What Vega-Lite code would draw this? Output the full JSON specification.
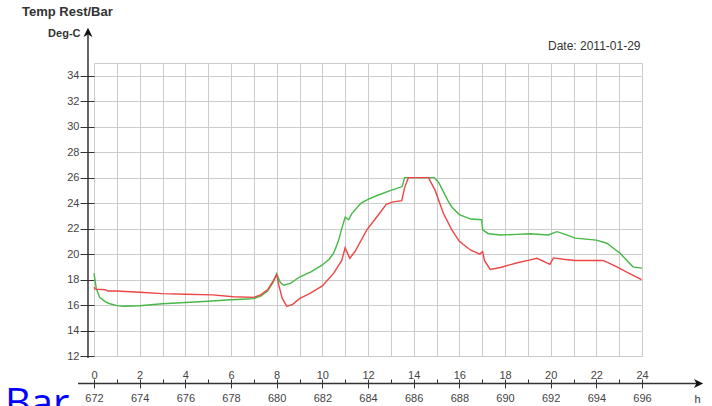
{
  "$schema": "https://vega.github.io/schema/vega-lite/v6.json",
  "width": 548,
  "height": 293,
  "autosize": {"type": "none"},
  "padding": {"left": 94, "top": 63, "right": 70, "bottom": 50},
  "background": "white",
  "title": {"text": "Temp Rest/Bar", "anchor": "start", "frame": "group", "dx": -72, "offset": 8, "font": "Liberation Sans", "fontSize": 13, "fontWeight": "bold", "color": "#333333"},
  "config": {
    "view": {"stroke": "#cccccc"},
    "axis": {"labelFont": "Liberation Sans", "titleFont": "Liberation Sans", "labelColor": "#444444", "titleColor": "#333333"}
  },
  "datasets": {
    "temps": [
      {"hour": 0.0, "temp": 18.5, "series": "Rest"},
      {"hour": 0.1, "temp": 17.3, "series": "Rest"},
      {"hour": 0.25, "temp": 16.6, "series": "Rest"},
      {"hour": 0.5, "temp": 16.25, "series": "Rest"},
      {"hour": 0.7, "temp": 16.1, "series": "Rest"},
      {"hour": 1.0, "temp": 15.95, "series": "Rest"},
      {"hour": 1.3, "temp": 15.9, "series": "Rest"},
      {"hour": 2.0, "temp": 15.95, "series": "Rest"},
      {"hour": 3.0, "temp": 16.1, "series": "Rest"},
      {"hour": 4.0, "temp": 16.2, "series": "Rest"},
      {"hour": 5.0, "temp": 16.3, "series": "Rest"},
      {"hour": 5.8, "temp": 16.4, "series": "Rest"},
      {"hour": 6.5, "temp": 16.45, "series": "Rest"},
      {"hour": 7.0, "temp": 16.5, "series": "Rest"},
      {"hour": 7.3, "temp": 16.7, "series": "Rest"},
      {"hour": 7.6, "temp": 17.1, "series": "Rest"},
      {"hour": 7.85, "temp": 17.8, "series": "Rest"},
      {"hour": 8.0, "temp": 18.45, "series": "Rest"},
      {"hour": 8.15, "temp": 17.8, "series": "Rest"},
      {"hour": 8.3, "temp": 17.55, "series": "Rest"},
      {"hour": 8.6, "temp": 17.7, "series": "Rest"},
      {"hour": 9.0, "temp": 18.2, "series": "Rest"},
      {"hour": 9.5, "temp": 18.6, "series": "Rest"},
      {"hour": 10.0, "temp": 19.15, "series": "Rest"},
      {"hour": 10.3, "temp": 19.6, "series": "Rest"},
      {"hour": 10.5, "temp": 20.1, "series": "Rest"},
      {"hour": 10.7, "temp": 21.0, "series": "Rest"},
      {"hour": 10.85, "temp": 22.0, "series": "Rest"},
      {"hour": 11.0, "temp": 22.9, "series": "Rest"},
      {"hour": 11.15, "temp": 22.7, "series": "Rest"},
      {"hour": 11.3, "temp": 23.2, "series": "Rest"},
      {"hour": 11.7, "temp": 24.0, "series": "Rest"},
      {"hour": 12.0, "temp": 24.3, "series": "Rest"},
      {"hour": 12.4, "temp": 24.6, "series": "Rest"},
      {"hour": 13.0, "temp": 25.0, "series": "Rest"},
      {"hour": 13.5, "temp": 25.3, "series": "Rest"},
      {"hour": 13.6, "temp": 26.0, "series": "Rest"},
      {"hour": 14.9, "temp": 26.0, "series": "Rest"},
      {"hour": 15.1, "temp": 25.6, "series": "Rest"},
      {"hour": 15.3, "temp": 24.9, "series": "Rest"},
      {"hour": 15.5, "temp": 24.2, "series": "Rest"},
      {"hour": 15.67, "temp": 23.7, "series": "Rest"},
      {"hour": 16.0, "temp": 23.1, "series": "Rest"},
      {"hour": 16.5, "temp": 22.75, "series": "Rest"},
      {"hour": 16.98, "temp": 22.7, "series": "Rest"},
      {"hour": 17.02, "temp": 21.9, "series": "Rest"},
      {"hour": 17.27, "temp": 21.6, "series": "Rest"},
      {"hour": 17.8, "temp": 21.5, "series": "Rest"},
      {"hour": 18.5, "temp": 21.55, "series": "Rest"},
      {"hour": 19.1, "temp": 21.6, "series": "Rest"},
      {"hour": 19.9, "temp": 21.5, "series": "Rest"},
      {"hour": 20.27, "temp": 21.76, "series": "Rest"},
      {"hour": 20.55, "temp": 21.6, "series": "Rest"},
      {"hour": 21.07, "temp": 21.25, "series": "Rest"},
      {"hour": 22.0, "temp": 21.1, "series": "Rest"},
      {"hour": 22.46, "temp": 20.85, "series": "Rest"},
      {"hour": 23.04, "temp": 20.07, "series": "Rest"},
      {"hour": 23.6, "temp": 19.0, "series": "Rest"},
      {"hour": 24.0, "temp": 18.9, "series": "Rest"},
      {"hour": 0.0, "temp": 17.4, "series": "Bar"},
      {"hour": 0.05, "temp": 17.25, "series": "Bar"},
      {"hour": 0.5, "temp": 17.2, "series": "Bar"},
      {"hour": 0.6, "temp": 17.1, "series": "Bar"},
      {"hour": 1.0, "temp": 17.1, "series": "Bar"},
      {"hour": 2.0, "temp": 17.0, "series": "Bar"},
      {"hour": 3.0, "temp": 16.9, "series": "Bar"},
      {"hour": 4.0, "temp": 16.85, "series": "Bar"},
      {"hour": 5.2, "temp": 16.8, "series": "Bar"},
      {"hour": 6.1, "temp": 16.65, "series": "Bar"},
      {"hour": 7.0, "temp": 16.6, "series": "Bar"},
      {"hour": 7.3, "temp": 16.8, "series": "Bar"},
      {"hour": 7.6, "temp": 17.2, "series": "Bar"},
      {"hour": 7.85, "temp": 17.9, "series": "Bar"},
      {"hour": 8.0, "temp": 18.4, "series": "Bar"},
      {"hour": 8.1, "temp": 17.5, "series": "Bar"},
      {"hour": 8.25, "temp": 16.5, "series": "Bar"},
      {"hour": 8.45, "temp": 15.9, "series": "Bar"},
      {"hour": 8.7, "temp": 16.05, "series": "Bar"},
      {"hour": 9.0, "temp": 16.5, "series": "Bar"},
      {"hour": 9.5, "temp": 16.95, "series": "Bar"},
      {"hour": 10.0, "temp": 17.5, "series": "Bar"},
      {"hour": 10.5, "temp": 18.5, "series": "Bar"},
      {"hour": 10.85, "temp": 19.5, "series": "Bar"},
      {"hour": 11.0, "temp": 20.5, "series": "Bar"},
      {"hour": 11.2, "temp": 19.67, "series": "Bar"},
      {"hour": 11.43, "temp": 20.2, "series": "Bar"},
      {"hour": 11.95, "temp": 21.9, "series": "Bar"},
      {"hour": 12.4, "temp": 22.95, "series": "Bar"},
      {"hour": 12.8, "temp": 23.9, "series": "Bar"},
      {"hour": 13.1, "temp": 24.1, "series": "Bar"},
      {"hour": 13.48, "temp": 24.2, "series": "Bar"},
      {"hour": 13.6, "temp": 25.2, "series": "Bar"},
      {"hour": 13.77, "temp": 26.0, "series": "Bar"},
      {"hour": 14.65, "temp": 26.0, "series": "Bar"},
      {"hour": 14.94, "temp": 25.0, "series": "Bar"},
      {"hour": 15.3, "temp": 23.2, "series": "Bar"},
      {"hour": 15.67, "temp": 21.9, "series": "Bar"},
      {"hour": 16.0, "temp": 21.0, "series": "Bar"},
      {"hour": 16.5, "temp": 20.3, "series": "Bar"},
      {"hour": 16.9, "temp": 20.0, "series": "Bar"},
      {"hour": 17.02, "temp": 20.2, "series": "Bar"},
      {"hour": 17.1, "temp": 19.5, "series": "Bar"},
      {"hour": 17.35, "temp": 18.8, "series": "Bar"},
      {"hour": 17.8, "temp": 18.95, "series": "Bar"},
      {"hour": 18.5, "temp": 19.3, "series": "Bar"},
      {"hour": 19.1, "temp": 19.55, "series": "Bar"},
      {"hour": 19.4, "temp": 19.67, "series": "Bar"},
      {"hour": 19.97, "temp": 19.2, "series": "Bar"},
      {"hour": 20.12, "temp": 19.7, "series": "Bar"},
      {"hour": 20.55, "temp": 19.6, "series": "Bar"},
      {"hour": 21.07, "temp": 19.5, "series": "Bar"},
      {"hour": 22.3, "temp": 19.5, "series": "Bar"},
      {"hour": 22.9, "temp": 19.0, "series": "Bar"},
      {"hour": 23.48, "temp": 18.45, "series": "Bar"},
      {"hour": 23.98, "temp": 18.0, "series": "Bar"}
    ]
  },
  "layer": [
    {
      "data": {"name": "temps"},
      "mark": {"type": "line", "strokeWidth": 1.4, "clip": false},
      "encoding": {
        "x": {
          "field": "hour", "type": "quantitative",
          "scale": {"domain": [0, 24], "nice": false, "zero": false},
          "axis": {
            "orient": "bottom", "offset": 26,
            "values": [0, 2, 4, 6, 8, 10, 12, 14, 16, 18, 20, 22, 24],
            "labelExpr": "datum.value + 672",
            "tickSize": 6, "tickColor": "#333333", "tickWidth": 1,
            "domain": false, "grid": false,
            "labelPadding": 4, "labelFontSize": 11, "labelFlush": false, "labelOverlap": false,
            "title": "h", "titleX": 603, "titleY": 20, "titleAlign": "center", "titleBaseline": "alphabetic",
            "titleFontWeight": "normal", "titleFontSize": 11
          }
        },
        "y": {
          "field": "temp", "type": "quantitative",
          "scale": {"domain": [12, 35], "nice": false, "zero": false},
          "axis": {
            "orient": "left",
            "values": [12, 14, 16, 18, 20, 22, 24, 26, 28, 30, 32, 34],
            "tickSize": 14, "tickColor": "#333333", "tickWidth": 1,
            "domain": false, "grid": true, "gridColor": "#cccccc", "gridWidth": 1,
            "labelPadding": 1, "labelFontSize": 11, "labelOverlap": false, "labelFlush": false,
            "title": "Deg-C", "titleAngle": 0, "titleAlign": "right", "titleBaseline": "middle",
            "titleX": -14, "titleY": -30, "titleFontSize": 11, "titleFontWeight": "bold"
          }
        },
        "color": {
          "field": "series", "type": "nominal",
          "scale": {"domain": ["Bar", "Rest"], "range": ["#ec4646", "#45b845"]},
          "legend": null
        }
      }
    },
    {
      "data": {"values": [{}]},
      "mark": {"type": "rule", "clip": false, "color": "#333333", "strokeWidth": 1.5},
      "encoding": {
        "x": {
          "datum": -0.7, "type": "quantitative",
          "scale": {"domain": [0, 24], "nice": false, "zero": false},
          "axis": {
            "orient": "bottom", "offset": 27,
            "values": [0, 1, 2, 3, 4, 5, 6, 7, 8, 9, 10, 11, 12, 13, 14, 15, 16, 17, 18, 19, 20, 21, 22, 23, 24],
            "labelExpr": "datum.value % 2 == 0 ? datum.label : ''",
            "tickSize": -4, "tickColor": "#333333", "tickWidth": 1,
            "domain": false, "grid": true, "gridColor": "#cccccc", "gridWidth": 1,
            "labelBaseline": "alphabetic", "labelPadding": -1, "labelFontSize": 11,
            "labelFlush": false, "labelOverlap": false,
            "title": null
          }
        },
        "x2": {"datum": 26.5},
        "y": {
          "datum": 9.84, "type": "quantitative",
          "scale": {"domain": [12, 35], "nice": false, "zero": false},
          "axis": {
            "orient": "right", "domain": false, "ticks": false, "labels": false, "grid": false,
            "title": "Date: 2011-01-29", "titleAngle": 0, "titleAlign": "right", "titleBaseline": "middle",
            "titleX": -2, "titleY": -18, "titleFontSize": 12, "titleFontWeight": "normal"
          }
        }
      }
    },
    {
      "data": {"values": [{}]},
      "mark": {"type": "rule", "clip": false, "color": "#333333", "strokeWidth": 1.5},
      "encoding": {
        "x": {"datum": -0.263, "type": "quantitative", "scale": {"domain": [0, 24], "nice": false, "zero": false}, "axis": null},
        "y": {"datum": 11.84, "type": "quantitative", "scale": {"domain": [12, 35], "nice": false, "zero": false}, "axis": null},
        "y2": {"datum": 37.2}
      }
    },
    {
      "data": {"values": [{}]},
      "mark": {"type": "point", "clip": false, "filled": true, "color": "#111111", "opacity": 1, "size": 100, "shape": "M0,-1L0.9,0.85L0,0.35L-0.9,0.85Z"},
      "encoding": {
        "x": {"datum": -0.263, "type": "quantitative", "scale": {"domain": [0, 24], "nice": false, "zero": false}, "axis": null},
        "y": {"datum": 37.37, "type": "quantitative", "scale": {"domain": [12, 35], "nice": false, "zero": false}, "axis": null}
      }
    },
    {
      "data": {"values": [{}]},
      "mark": {"type": "point", "clip": false, "filled": true, "color": "#111111", "opacity": 1, "size": 100, "shape": "M1,0L-0.85,0.9L-0.35,0L-0.85,-0.9Z"},
      "encoding": {
        "x": {"datum": 26.46, "type": "quantitative", "scale": {"domain": [0, 24], "nice": false, "zero": false}, "axis": null},
        "y": {"datum": 9.84, "type": "quantitative", "scale": {"domain": [12, 35], "nice": false, "zero": false}, "axis": null}
      }
    },
    {
      "data": {"values": [{"label": "Bar"}]},
      "mark": {"type": "text", "clip": false, "align": "left", "baseline": "alphabetic", "font": "Open Sans", "fontSize": 40, "color": "#0000ff"},
      "encoding": {
        "text": {"field": "label"},
        "x": {"datum": -3.9, "type": "quantitative", "scale": {"domain": [0, 24], "nice": false, "zero": false}, "axis": null},
        "y": {"datum": 7.25, "type": "quantitative", "scale": {"domain": [12, 35], "nice": false, "zero": false}, "axis": null}
      }
    }
  ],
  "resolve": {"axis": {"x": "independent", "y": "independent"}}
}
